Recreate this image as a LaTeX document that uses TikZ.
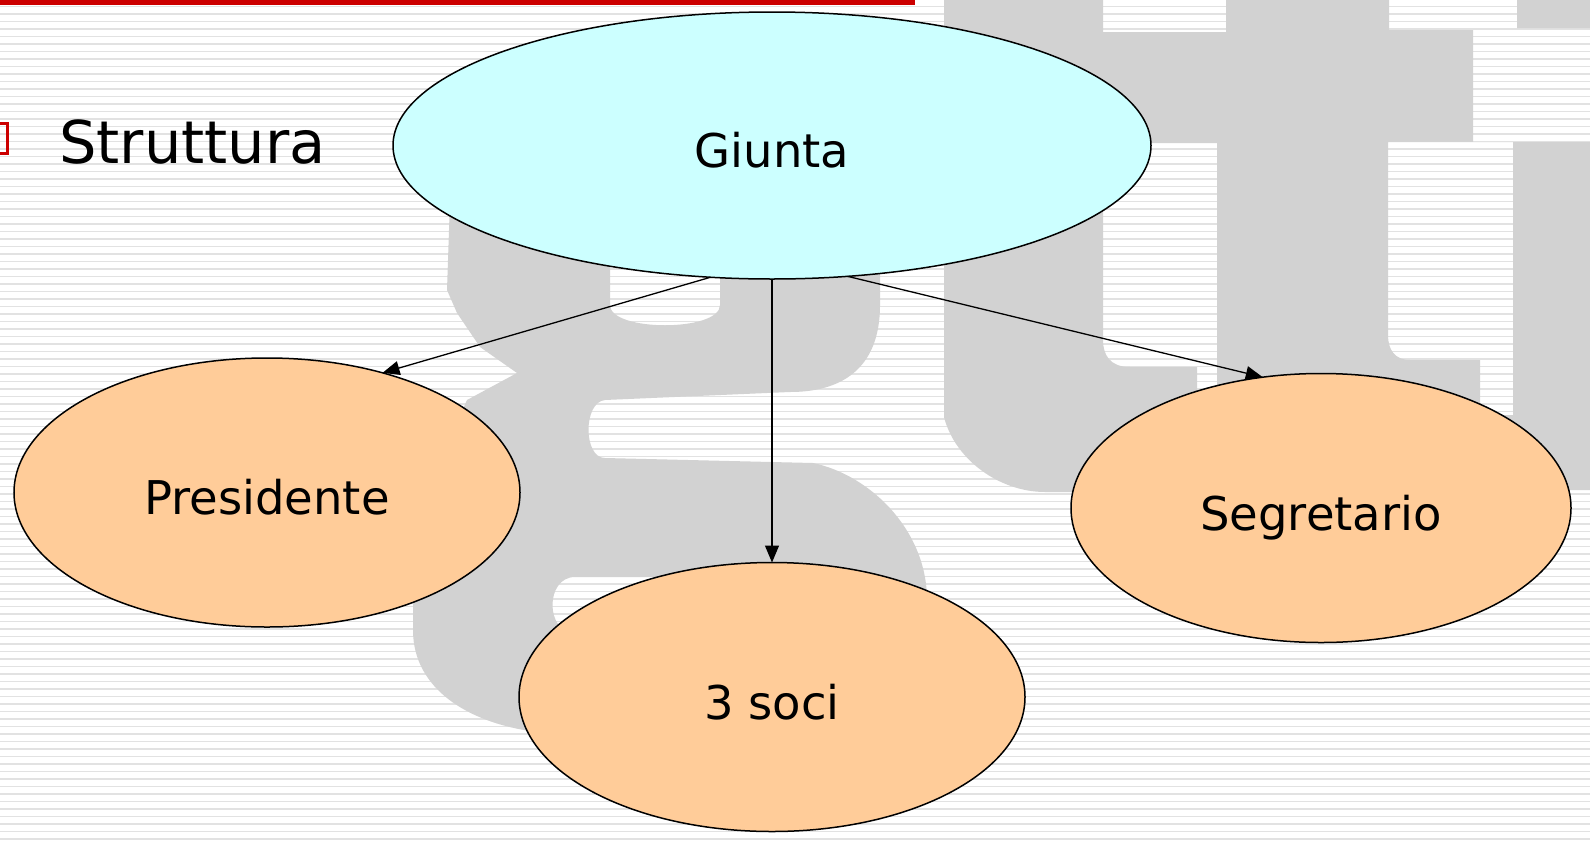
\documentclass[tikz,border=0pt]{standalone}
\usepackage{fontspec}
\setmainfont{DejaVu Sans}
\usetikzlibrary{shapes.geometric,arrows.meta}
\definecolor{stripe}{RGB}{226,226,226}
\definecolor{logo}{RGB}{210,210,210}
\definecolor{cyanfill}{RGB}{204,255,255}
\definecolor{peach}{RGB}{255,204,153}
\definecolor{redline}{RGB}{204,0,0}
\begin{document}
\begin{tikzpicture}[x=1pt,y=-1pt,
  bubble/.style={ellipse, draw=black, line width=1.5pt, inner sep=0pt, outer sep=0pt,
    text height=44pt, text depth=0pt, font=\fontsize{46.5}{50}\selectfont},
  topbubble/.style={bubble, fill=cyanfill, minimum width=758pt, minimum height=267pt},
  subbubble/.style={bubble, fill=peach, minimum width=506pt, minimum height=269pt},
  link/.style={line width=1.3pt, -{Triangle[length=17pt,width=14pt]}},
  logofill/.style={fill=logo, even odd rule}
]
\useasboundingbox (0,0) rectangle (1590,841);
\fill[white] (0,0) rectangle (1590,841);
% striped background
\foreach \k in {0,...,111} {
  \fill[stripe] (0,{5.5+7.5*\k}) rectangle (1590,{7+7.5*\k});
}
% watermark logo, left letter
\fill[logofill]
  (450,200) -- (880,200) -- (880,305)
  .. controls (880,370) and (840,392) .. (790,392) -- (605,400)
  .. controls (583,402) and (583,458) .. (605,458) -- (813,463)
  .. controls (870,475) and (927,530) .. (927,600) -- (927,700) -- (700,738) -- (530,731)
  .. controls (470,722) and (413,690) .. (413,630) -- (413,590) -- (440,460) -- (467,400)
  -- (517,373) -- (480,347) -- (457,313) -- (447,290) -- cycle
  (610,240) -- (720,240) -- (720,305) .. controls (720,332) and (610,332) .. (610,305) -- cycle
  (700,577) -- (575,577) .. controls (545,577) and (545,633) .. (575,633) -- (700,633) -- cycle;
% watermark logo, right letter
\fill[logofill]
  (944,-1) -- (1591,-1) -- (1591,490) -- (1190,492) -- (1045,492)
  .. controls (1000,492) and (955,460) .. (944,417) -- cycle
  (1103,-2) -- (1226,-2) -- (1226,32) -- (1103,32) -- cycle
  (1103,143) -- (1217,143) -- (1217,410) -- (1197,410) -- (1197,367) -- (1130,367)
  .. controls (1110,367) and (1103,355) .. (1103,340) -- cycle
  (1389,-2) -- (1517,-2) -- (1517,28) -- (1592,28) -- (1592,142) -- (1473,142) -- (1473,30) -- (1389,30) -- cycle
  (1388,142) -- (1513,142) -- (1513,415) -- (1480,415) -- (1480,360) -- (1410,360)
  .. controls (1395,360) and (1388,350) .. (1388,335) -- cycle;
% title bar and bullet
\fill[redline] (0,0) rectangle (915,4.5);
\draw[redline, line width=3pt] (-25,123.5) rectangle (7.5,153.5);
\node[anchor=base west, inner sep=0pt, font=\fontsize{59}{63}\selectfont] (title) at (59,163) {Struttura};
% nodes
\node[topbubble] (g) at (772,145.5) {Giunta};
\node[subbubble] (p) at (267,492.5) {Presidente};
\node[subbubble] (s) at (772,697) {3 soci};
\node[subbubble, minimum width=500pt] (r) at (1321,508) {Segretario};
% connectors
\draw[link] (g.245) -- (p.46.9);
\draw[link] (g.south) -- (s.north);
\draw[link] (g.300.3) -- (r.114.1);
\end{tikzpicture}
\end{document}
